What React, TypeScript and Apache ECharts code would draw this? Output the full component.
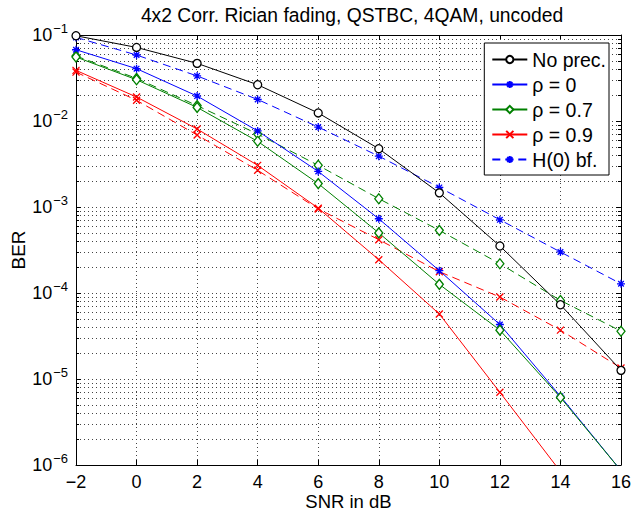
import React, { useEffect, useRef } from "react";
import * as echarts from "echarts";

const snr = [-2, 0, 2, 4, 6, 8, 10, 12, 14, 16];
const noPrec = [0.098, 0.0717, 0.0468, 0.0264, 0.0124, 0.00476, 0.00146, 0.000352, 7.3e-5, 1.26e-5];
const rho0 = [0.0674, 0.0406, 0.0195, 0.00766, 0.00259, 7.3e-4, 1.82e-4, 4.3e-5, 6.3e-6, 8.6e-7];
const rho07 = [0.0555, 0.0302, 0.0144, 0.0058, 0.00187, 5.0e-4, 1.26e-4, 3.7e-5, 6.1e-6, 8.6e-7];
const rho09 = [0.0388, 0.019, 0.00807, 0.00305, 9.7e-4, 2.44e-4, 5.7e-5, 7.0e-6, 8.4e-7];
const h0bf = [0.0938, 0.0585, 0.0334, 0.0178, 0.0085, 0.0039, 0.00169, 7.1e-4, 3.0e-4, 1.28e-4];
const rho07dash = [0.057, 0.0313, 0.0151, 0.00706, 0.00305, 0.00125, 5.35e-4, 2.19e-4, 8.2e-5, 3.6e-5];
const rho09dash = [0.037, 0.0174, 0.00687, 0.00267, 9.5e-4, 4.17e-4, 1.77e-4, 8.98e-5, 3.7e-5, 1.34e-5];

const legendNames = ["No prec.", "ρ = 0", "ρ = 0.7", "ρ = 0.9", "H(0) bf."];
const titleText = "4x2 Corr. Rician fading, QSTBC, 4QAM, uncoded";
const xName = "SNR in dB";
const yName = "BER";

// minor log-axis positions (2..9 × 10^k), used for the dotted minor grid and minor ticks
const decades = [-6, -5, -4, -3, -2];
const mantissas = [2, 3, 4, 5, 6, 7, 8, 9];
const minorVals: number[] = [];
decades.forEach((k) => mantissas.forEach((m) => minorVals.push(Number((m * Math.pow(10, k)).toPrecision(3)))));

const X_MIN = -2;
const X_MAX = 16;

const FONT = "Liberation Sans, Arial, Helvetica, sans-serif";
const ASTERISK = "path://M10 0 L10 20 M0 10 L20 10 M3 3 L17 17 M17 3 L3 17";
const XMARK = "path://M0 0 L20 20 M20 0 L0 20";

const pair = (ys: number[]) => ys.map((y, i) => [snr[i], y]);

function mkSeries(
  name: string,
  data: number[],
  color: string,
  symbol: string,
  size: number | number[],
  dashed: boolean,
  hollow: boolean
) {
  return {
    name,
    type: "line",
    data: pair(data),
    symbol,
    symbolSize: size,
    showSymbol: true,
    clip: true,
    lineStyle: { color, width: 1, type: dashed ? [8, 5] : "solid" },
    itemStyle: {
      color: hollow ? "#fff" : color,
      borderColor: color,
      borderWidth: 1.3,
    },
    emphasis: { disabled: true },
    z: 3,
  };
}

export default function App() {
  const ref = useRef<HTMLDivElement>(null);
  useEffect(() => {
    if (!ref.current) return;
    const chart = echarts.init(ref.current, null, { renderer: "svg" });
    const gridColor = "#444";
    const dots = { color: gridColor, width: 1, type: [1, 3] };
    const yFmt = (v: number) => {
      const e = Math.round(Math.log10(v));
      return `{b|10}{s|${e < 0 ? "−" : ""}${Math.abs(e)}}`;
    };
    const xFmt = (v: number) => (v < 0 ? "−" + Math.abs(v) : String(v));
    const commonX = {
      type: "value",
      min: X_MIN,
      max: X_MAX,
      interval: 2,
      axisLine: { show: true, onZero: false, lineStyle: { color: "#000", width: 1 } },
      axisTick: { show: true, inside: true, length: 5, lineStyle: { color: "#000" } },
    };
    const commonY = {
      type: "log",
      logBase: 10,
      min: 1e-6,
      max: 1e-1,
      axisLine: { show: true, onZero: false, lineStyle: { color: "#000", width: 1 } },
      axisTick: { show: true, inside: true, length: 5, lineStyle: { color: "#000" } },
      minorTick: { show: false },
    };
    chart.setOption({
      animation: false,
      backgroundColor: "#fff",
      title: {
        text: titleText,
        left: 347,
        top: 1,
        textAlign: "center",
        textStyle: { fontFamily: FONT, fontSize: 19.3, fontWeight: "normal", color: "#000" },
      },
      grid: { left: 76, right: 10, top: 35, bottom: 47, containLabel: false, outerBoundsMode: "none" },
      legend: {
        data: legendNames,
        orient: "vertical",
        right: 22,
        top: 43,
        backgroundColor: "#fff",
        borderColor: "#000",
        borderWidth: 1,
        borderRadius: 0,
        padding: [6, 3, 5, 7],
        itemWidth: 35,
        itemHeight: 9,
        itemGap: 4,
        textStyle: { fontFamily: FONT, fontSize: 19.5, color: "#000", lineHeight: 21 },
        selectedMode: false,
      },
      xAxis: [
        {
          ...commonX,
          position: "bottom",
          name: xName,
          nameLocation: "middle",
          nameGap: 27,
          nameMoveOverlap: false,
          nameTextStyle: { fontFamily: FONT, fontSize: 18.5, color: "#000", lineHeight: 19 },
          axisLabel: { formatter: xFmt, fontFamily: FONT, fontSize: 18, color: "#000", margin: 7, lineHeight: 19 },
          splitLine: { show: true, lineStyle: dots },
        },
        {
          ...commonX,
          position: "top",
          axisLabel: { show: false },
          splitLine: { show: false },
        },
      ],
      yAxis: [
        {
          ...commonY,
          position: "left",
          name: yName,
          nameLocation: "middle",
          nameGap: 48,
          nameMoveOverlap: false,
          nameTextStyle: { fontFamily: FONT, fontSize: 19, color: "#000" },
          axisLabel: {
            formatter: yFmt,
            margin: 8,
            color: "#000",
            rich: {
              b: { fontFamily: FONT, fontSize: 18, color: "#000" },
              s: { fontFamily: FONT, fontSize: 13, color: "#000", padding: [0, 0, 14, 1] },
            },
          },
          splitLine: { show: true, lineStyle: dots },
          minorSplitLine: { show: false },
        },
        {
          ...commonY,
          position: "right",
          axisLabel: { show: false },
          splitLine: { show: false },
          minorSplitLine: { show: false },
        },
      ],
      series: [
        {
          name: "minor-grid",
          type: "custom",
          silent: true,
          clip: false,
          z: 1,
          data: minorVals.map((v) => [X_MIN, v]),
          renderItem: (params: any, api: any) => {
            const v = api.value(1);
            const p0 = api.coord([X_MIN, v]);
            const p1 = api.coord([X_MAX, v]);
            const y = Math.round(p0[1]) + 0.5;
            return {
              type: "group",
              children: [
                {
                  type: "line",
                  shape: { x1: p0[0], y1: y, x2: p1[0], y2: y },
                  style: { stroke: gridColor, lineWidth: 1, lineDash: [1, 3] },
                },
                {
                  type: "line",
                  shape: { x1: p0[0], y1: y, x2: p0[0] + 3, y2: y },
                  style: { stroke: "#000", lineWidth: 1 },
                },
                {
                  type: "line",
                  shape: { x1: p1[0] - 3, y1: y, x2: p1[0], y2: y },
                  style: { stroke: "#000", lineWidth: 1 },
                },
              ],
            };
          },
        },
        mkSeries("ρ = 0.7 dashed", rho07dash, "#008000", "diamond", [8, 10], true, true),
        mkSeries("ρ = 0.9 dashed", rho09dash, "#ff0000", XMARK, 7, true, false),
        mkSeries(legendNames[4], h0bf, "#0000ff", ASTERISK, 8, true, false),
        mkSeries(legendNames[0], noPrec, "#000000", "circle", 8, false, true),
        mkSeries(legendNames[1], rho0, "#0000ff", ASTERISK, 8, false, false),
        mkSeries(legendNames[2], rho07, "#008000", "diamond", [8, 10], false, true),
        mkSeries(legendNames[3], rho09, "#ff0000", XMARK, 7, false, false),
      ],
    });
    return () => chart.dispose();
  }, []);
  return <div ref={ref} style={{ width: 631, height: 512, position: "absolute", left: 0, top: 0 }} />;
}
